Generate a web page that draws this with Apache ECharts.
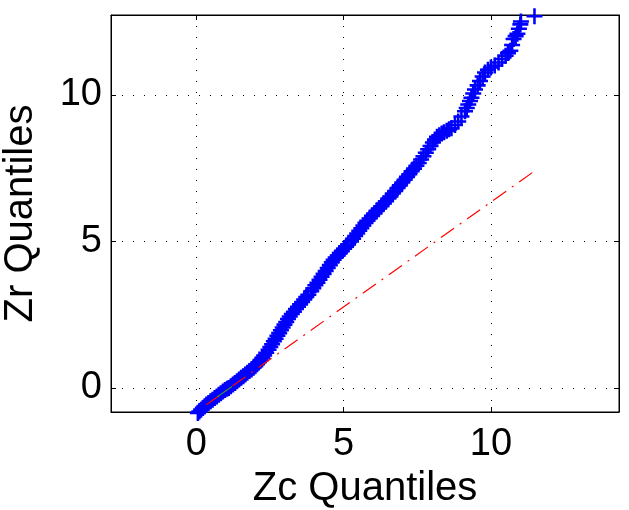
<!DOCTYPE html>
<html>
<head>
<meta charset="utf-8">
<script src="https://cdn.jsdelivr.net/npm/echarts@6/dist/echarts.min.js"></script>
<style>html,body{margin:0;padding:0;background:#fff;}#c{width:629px;height:510px;}</style>
</head>
<body>
<div id="c"></div>
<script>
// Zc quantiles (x) and Zr quantiles (y)
var zc = [0.05,0.10,0.16,0.22,0.28,0.34,0.41,0.48,0.55,0.62,0.69,0.76,0.83,0.90,0.97,1.04,1.10,
1.17,1.24,1.31,1.38,1.45,1.52,1.59,1.66,1.73,1.80,1.87,1.94,2.00,
2.06,2.12,2.18,2.24,2.30,2.37,2.45,
2.51,2.57,2.63,2.69,2.75,2.81,2.87,2.93,2.99,3.05,3.11,3.17,
3.24,3.31,3.38,3.45,3.52,3.59,3.66,3.73,3.80,3.90,
3.97,4.04,4.11,4.18,4.25,4.32,4.39,4.46,4.53,4.60,4.66,
4.73,4.80,4.87,4.94,5.01,5.08,5.15,5.25,
5.32,5.39,5.46,5.53,5.60,5.67,5.74,5.80,
5.88,5.96,6.04,6.12,6.20,6.28,6.36,6.44,6.52,6.59,
6.67,6.75,6.83,6.91,6.99,7.07,7.15,7.23,7.31,7.39,7.47,7.55,
7.63,7.71,7.79,7.87,7.95,8.03,8.10,8.17,
8.25,8.33,8.41,8.50,8.58,8.66,8.78,8.89,
9.00,9.12,9.18,9.23,9.29,9.34,9.40,9.46,9.55,9.63,9.72,9.80,9.90,10.00,10.13,10.26,10.38,10.50,10.58,10.66,10.72,10.77,10.84,10.90,10.95,11.00,11.02,11.48];
var zr = [-0.85,-0.80,-0.74,-0.68,-0.62,-0.56,-0.51,-0.45,-0.40,-0.34,-0.29,-0.23,-0.18,-0.12,-0.07,-0.03,0.00,
0.06,0.12,0.17,0.23,0.29,0.35,0.40,0.46,0.52,0.58,0.63,0.69,0.74,
0.81,0.88,0.95,1.03,1.11,1.20,1.30,
1.40,1.49,1.59,1.68,1.78,1.87,1.97,2.06,2.16,2.25,2.35,2.44,
2.52,2.60,2.69,2.77,2.85,2.93,3.02,3.10,3.18,3.30,
3.40,3.50,3.59,3.69,3.79,3.89,3.99,4.09,4.19,4.29,4.37,
4.45,4.52,4.60,4.67,4.75,4.82,4.89,5.00,
5.09,5.18,5.27,5.36,5.45,5.54,5.63,5.70,
5.78,5.87,5.95,6.04,6.12,6.20,6.29,6.37,6.46,6.53,
6.63,6.72,6.82,6.91,7.01,7.10,7.20,7.29,7.39,7.48,7.58,7.67,
7.79,7.90,8.02,8.14,8.25,8.37,8.47,8.57,
8.62,8.68,8.72,8.77,8.82,8.86,8.97,9.09,
9.26,9.44,9.55,9.67,9.79,9.90,10.04,10.18,10.32,10.47,10.62,10.76,10.85,10.93,11.00,11.10,11.22,11.33,11.42,11.50,11.70,11.90,12.00,12.08,12.25,12.40,12.50,12.68];
// reference line (dash-dot) and quartile segment
var refX = [0.34, 11.44];
var refY = [-0.57, 7.37];
var qX = [0.70, 1.21];
var qY = [-0.31, 0.05];
var xTicks = [0, 5, 10];
var yTicks = [0, 5, 10];
var xRange = [-2.9, 14.35];
var yRange = [-0.82, 12.72];
var xTitle = 'Zc Quantiles';
var yTitle = 'Zr Quantiles';

var n = Math.min(zc.length, zr.length);
var pts = [];
for (var i = 0; i < n; i++) pts.push([zc[i], zr[i]]);
var refPts = refX.map(function (v, i) { return [v, refY[i]]; });
var qPts = qX.map(function (v, i) { return [v, qY[i]]; });

var FONT = '"Liberation Sans", Arial, sans-serif';
var plus = 'path://M0.42,0 L0.58,0 L0.58,0.42 L1,0.42 L1,0.58 L0.58,0.58 L0.58,1 L0.42,1 L0.42,0.58 L0,0.58 L0,0.42 L0.42,0.42 Z';

function mkAxis(range, ticks, pos, main, name, isX) {
  return {
    type: 'value', position: pos, min: range[0], max: range[1],
    axisLine: { show: true, onZero: false, lineStyle: { color: '#000', width: 1 } },
    axisTick: { show: true, inside: true, length: 5, customValues: ticks, lineStyle: { color: '#000', width: 1 } },
    axisLabel: main ? { show: true, customValues: ticks, color: '#000', fontFamily: FONT, fontSize: 38, margin: isX ? 14 : 9 } : { show: false },
    splitLine: main ? { show: true, lineStyle: { color: '#000', type: [1, 10], width: 1 } } : { show: false },
    name: main ? name : '',
    nameLocation: 'middle',
    nameGap: isX ? 44 : 70,
    nameTextStyle: { color: '#000', fontFamily: FONT, fontSize: 40 }
  };
}

var chart = echarts.init(document.getElementById('c'), null, { renderer: 'canvas' });
chart.setOption({
  animation: false,
  backgroundColor: '#fff',
  grid: { left: 111, right: 10, top: 15, bottom: 98, show: true, borderColor: '#000', borderWidth: 1, backgroundColor: 'transparent', containLabel: false, outerBoundsMode: 'none' },
  xAxis: [mkAxis(xRange, xTicks, 'bottom', true, xTitle, true), mkAxis(xRange, xTicks, 'top', false, '', true)],
  yAxis: [mkAxis(yRange, yTicks, 'left', true, yTitle, false), mkAxis(yRange, yTicks, 'right', false, '', false)],
  series: [
    {
      type: 'scatter', data: pts, symbol: plus, symbolSize: 16, clip: false,
      itemStyle: { color: '#0000ff', opacity: 1 }, z: 2
    },
    {
      type: 'line', data: refPts, showSymbol: false, symbol: 'none',
      lineStyle: { color: '#ff0000', width: 1.2, type: [16, 7, 2, 7] }, z: 3
    },
    {
      type: 'line', data: qPts, showSymbol: false, symbol: 'none',
      lineStyle: { color: '#3c8c3c', width: 1.2 }, z: 4
    }
  ]
});
</script>
</body>
</html>
